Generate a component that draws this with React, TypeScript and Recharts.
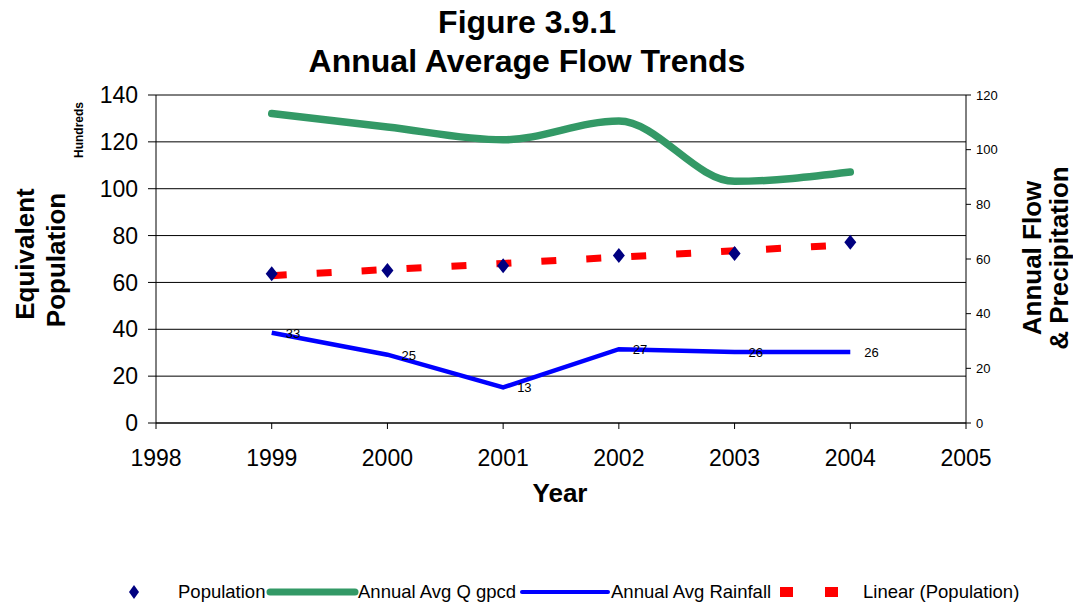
import {
  ComposedChart,
  CartesianGrid,
  Line,
  XAxis,
  YAxis,
  LabelList,
} from "recharts";

// yearly figures
const years = [1999, 2000, 2001, 2002, 2003, 2004];
const population = [63.7, 65.1, 67.1, 71.5, 72.3, 77.2]; // hundreds
const populationTrend = [62.9, 65.5, 68.1, 70.8, 73.5, 76.1];
const flowGpcd = [113.2, 108.3, 103.6, 110.5, 88.4, 91.8];
const rainfall = [33, 25, 13, 27, 26, 26];

const yearTicks = [1998, 1999, 2000, 2001, 2002, 2003, 2004, 2005];
const leftTicks = [0, 20, 40, 60, 80, 100, 120, 140];
const rightTicks = [0, 20, 40, 60, 80, 100, 120];

const data = years.map((year, i) => ({
  year,
  population: population[i],
  trend: populationTrend[i],
  flow: flowGpcd[i],
  rainfall: rainfall[i],
}));

const FONT = "'Liberation Sans', Arial, sans-serif";

const GREEN = "#339966";
const BLUE = "#0000FF";
const RED = "#FF0000";
const NAVY = "#000080";

function Diamond(props: any) {
  const { cx, cy, index } = props;
  if (cx == null || cy == null) return null;
  return (
    <path
      key={`pop-${index}`}
      d={`M${cx},${cy - 7.5} L${cx + 6},${cy} L${cx},${cy + 7.5} L${cx - 6},${cy} Z`}
      fill={NAVY}
    />
  );
}

function RainLabel(props: any) {
  const { x, y, value, index } = props;
  return (
    <text
      key={`rain-${index}`}
      x={x + 14}
      y={y + 5}
      fontSize={13}
      fontFamily={FONT}
      fill="#000"
    >
      {value}
    </text>
  );
}

function Titles() {
  return (
    <svg
      width={1073}
      height={603}
      style={{ position: "absolute", left: 0, top: 0, pointerEvents: "none" }}
    >
      <g fontFamily={FONT} fontWeight="bold" fill="#000">
        <text x={527} y={33} fontSize={32} textAnchor="middle">
          Figure 3.9.1
        </text>
        <text x={527} y={72} fontSize={32} textAnchor="middle">
          Annual Average Flow Trends
        </text>
        <text x={560} y={502} fontSize={26} textAnchor="middle">
          Year
        </text>
        <text transform="translate(34,254) rotate(-90)" fontSize={26} textAnchor="middle">
          Equivalent
        </text>
        <text transform="translate(65,260) rotate(-90)" fontSize={26} textAnchor="middle">
          Population
        </text>
        <text transform="translate(83,130) rotate(-90)" fontSize={12} textAnchor="middle">
          Hundreds
        </text>
        <text transform="translate(1041,258) rotate(-90)" fontSize={26} textAnchor="middle">
          Annual Flow
        </text>
        <text transform="translate(1068,258) rotate(-90)" fontSize={26} textAnchor="middle">
          &amp; Precipitation
        </text>
      </g>
      {/* legend */}
      <g fontFamily={FONT} fontSize={18.5} fill="#000">
        <path d="M134,585 L139,592 L134,599 L129,592 Z" fill={NAVY} />
        <text x={178} y={598}>Population</text>
        <line x1={270} y1={592} x2={355} y2={592} stroke={GREEN} strokeWidth={7} strokeLinecap="round" />
        <text x={358} y={598}>Annual Avg Q gpcd</text>
        <line x1={522} y1={592} x2={608} y2={592} stroke={BLUE} strokeWidth={4} strokeLinecap="round" />
        <text x={611} y={598}>Annual Avg Rainfall</text>
        <rect x={780} y={587} width={13} height={10} fill={RED} />
        <rect x={825} y={587} width={13} height={10} fill={RED} />
        <text x={863} y={598}>Linear (Population)</text>
      </g>
    </svg>
  );
}

export default function App() {
  return (
    <div
      style={{
        position: "absolute",
        left: 0,
        top: 0,
        width: 1073,
        height: 603,
        background: "#fff",
      }}
    >
      <ComposedChart
        width={1073}
        height={603}
        data={data}
        margin={{ top: 95, right: 67, bottom: 130, left: 76 }}
      >
        <CartesianGrid
          yAxisId="left"
          vertical={false}
          stroke="#000"
          strokeWidth={1}
        />
        <XAxis
          dataKey="year"
          type="number"
          domain={[1998, 2005]}
          ticks={yearTicks}
          height={50}
          tickSize={6}
          tickMargin={21}
          axisLine={{ stroke: "#000" }}
          tickLine={{ stroke: "#000" }}
          tick={{ fill: "#000", fontSize: 23, fontFamily: FONT }}
        />
        <YAxis
          yAxisId="left"
          domain={[0, 140]}
          ticks={leftTicks}
          width={80}
          tickSize={8}
          tickMargin={10}
          axisLine={{ stroke: "#000" }}
          tickLine={{ stroke: "#000" }}
          tick={{ fill: "#000", fontSize: 23, fontFamily: FONT }}
        />
        <YAxis
          yAxisId="right"
          orientation="right"
          domain={[0, 120]}
          ticks={rightTicks}
          width={40}
          tickSize={5}
          tickMargin={5}
          axisLine={{ stroke: "#000" }}
          tickLine={{ stroke: "#000" }}
          tick={{ fill: "#000", fontSize: 13, fontFamily: FONT }}
        />
        <Line
          yAxisId="left"
          dataKey="trend"
          type="linear"
          stroke={RED}
          strokeWidth={7}
          strokeDasharray="15 30"
          dot={false}
          isAnimationActive={false}
        />
        <Line
          yAxisId="right"
          dataKey="flow"
          type="monotone"
          stroke={GREEN}
          strokeWidth={7.5}
          strokeLinecap="round"
          dot={false}
          isAnimationActive={false}
        />
        <Line
          yAxisId="right"
          dataKey="rainfall"
          type="linear"
          stroke={BLUE}
          strokeWidth={4.5}
          dot={false}
          isAnimationActive={false}
        >
          <LabelList dataKey="rainfall" content={RainLabel} />
        </Line>
        <Line
          yAxisId="left"
          dataKey="population"
          stroke="none"
          dot={Diamond}
          activeDot={false}
          isAnimationActive={false}
        />
      </ComposedChart>
      <Titles />
    </div>
  );
}
